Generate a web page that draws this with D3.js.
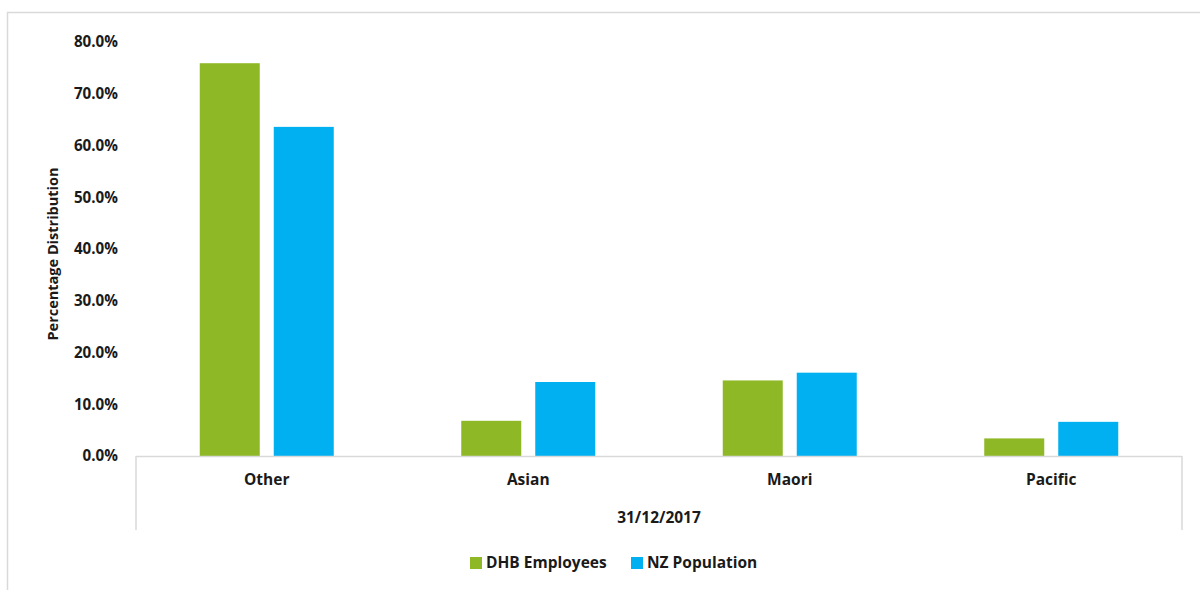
<!DOCTYPE html>
<html>
<head>
<meta charset="utf-8">
<script src="https://cdn.jsdelivr.net/npm/d3@7"></script>
<style>
  html, body { margin: 0; padding: 0; background: #fff; }
  svg { display: block; font-family: "Open Sans", "Noto Sans", sans-serif; }
</style>
</head>
<body>
<svg id="chart" width="1200" height="590"></svg>
<script>
// Ethnicity mix of DHB staff vs the NZ population, 31/12/2017
const categories = ["Other", "Asian", "Maori", "Pacific"];
const seriesNames = ["DHB Employees", "NZ Population"];
const dhbEmployees = [75.9, 6.8, 14.6, 3.4];
const nzPopulation = [63.6, 14.3, 16.1, 6.6];
const yTicks = [0, 10, 20, 30, 40, 50, 60, 70, 80];
const periodLabel = "31/12/2017";
const yTitle = "Percentage Distribution";

const colors = ["#8fb827", "#00b0f0"];
const series = [dhbEmployees, nzPopulation];

const svg = d3.select("#chart");

// outer frame
svg.append("rect")
  .attr("x", 7.5).attr("y", 12.5)
  .attr("width", 1220).attr("height", 600)
  .attr("fill", "none").attr("stroke", "#d9d9d9").attr("stroke-width", 1.5);

const plot = { left: 136, right: 1182, top: 42, bottom: 456 };
const pairWidth = 134; // two bars plus the gap between them

const y = d3.scaleLinear().domain([0, 80]).range([plot.bottom, plot.top]);
const x0 = d3.scaleBand().domain(categories).range([plot.left, plot.right])
  .paddingInner(0).paddingOuter(0);
const x1 = d3.scaleBand().domain(d3.range(series.length))
  .range([0, pairWidth]).paddingInner(14 / 74).paddingOuter(0);

// y axis labels
svg.append("g").selectAll("text").data(yTicks).join("text")
  .attr("x", 118).attr("y", d => y(d))
  .attr("dy", "0.35em")
  .attr("text-anchor", "end")
  .attr("font-size", 15.2).attr("font-weight", 700).attr("fill", "#1a1a1a")
  .text(d => d3.format(".1f")(d) + "%");

// bars
const groups = svg.append("g").selectAll("g").data(categories).join("g")
  .attr("transform", c => `translate(${x0(c) + (x0.bandwidth() - pairWidth) / 2},0)`);
groups.selectAll("rect")
  .data((c, i) => series.map((s, k) => ({ k, v: s[i] })))
  .join("rect")
  .attr("x", d => x1(d.k))
  .attr("width", x1.bandwidth())
  .attr("y", d => y(d.v))
  .attr("height", d => y(0) - y(d.v))
  .attr("fill", d => colors[d.k]);

// category axis with outer group brackets
const axisColor = "#d9d9d9";
svg.append("line")
  .attr("x1", plot.left).attr("x2", plot.right)
  .attr("y1", plot.bottom + 0.5).attr("y2", plot.bottom + 0.5)
  .attr("stroke", axisColor).attr("stroke-width", 1.5);
[plot.left, plot.right].forEach(px => {
  svg.append("line")
    .attr("x1", px).attr("x2", px)
    .attr("y1", plot.bottom).attr("y2", 530)
    .attr("stroke", axisColor).attr("stroke-width", 1.5);
});

svg.append("g").selectAll("text").data(categories).join("text")
  .attr("x", c => x0(c) + x0.bandwidth() / 2)
  .attr("y", 480).attr("dy", "0.35em")
  .attr("text-anchor", "middle")
  .attr("font-size", 15.5).attr("font-weight", 700).attr("fill", "#1a1a1a")
  .text(c => c);

svg.append("text")
  .attr("x", (plot.left + plot.right) / 2).attr("y", 518).attr("dy", "0.35em")
  .attr("text-anchor", "middle")
  .attr("font-size", 15.5).attr("font-weight", 700).attr("fill", "#1a1a1a")
  .text(periodLabel);

// y axis title
svg.append("text")
  .attr("transform", "translate(53,254) rotate(-90)")
  .attr("dy", "0.35em")
  .attr("text-anchor", "middle")
  .attr("font-size", 14.5).attr("font-weight", 700).attr("fill", "#1a1a1a")
  .text(yTitle);

// legend
const legendPos = [470, 631];
const legend = svg.append("g").selectAll("g").data(seriesNames).join("g")
  .attr("transform", (d, i) => `translate(${legendPos[i]},563)`);
legend.append("rect")
  .attr("x", 0).attr("y", -6).attr("width", 12).attr("height", 12)
  .attr("fill", (d, i) => colors[i]);
legend.append("text")
  .attr("x", 16).attr("dy", "0.35em")
  .attr("font-size", 15.5).attr("font-weight", 700).attr("fill", "#1a1a1a")
  .text(d => d);
</script>
</body>
</html>
